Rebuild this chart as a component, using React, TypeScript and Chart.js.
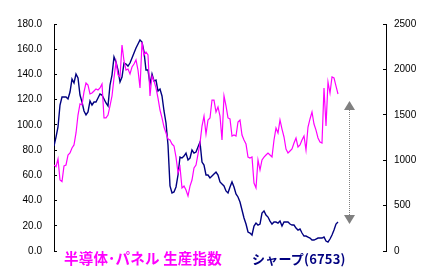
import React, { useEffect, useRef } from "react";
import { Chart, registerables } from "chart.js";

Chart.register(...registerables);

// 半導体・パネル 生産指数 (left axis), sampled left to right
const productionIndex: number[] = [
  68.2, 66.8, 73.0, 56.3, 55.0, 67.4, 68.2, 76.1, 77.7, 81.7,
  84.1, 93.6, 107.8, 116.6, 115.8, 126.1, 133.2, 131.6, 124.5, 125.3,
  126.9, 128.5, 127.7, 129.3, 132.4, 105.5, 105.5, 107.8, 115.0, 122.9,
  137.2, 149.9, 139.6, 138.0, 163.3, 150.7, 143.5, 144.3, 140.4, 145.9,
  148.3, 151.5, 143.5, 129.3, 165.7, 155.4, 157.8, 155.4, 122.9, 138.8,
  134.8, 129.3, 121.3, 111.8, 105.5, 98.3, 93.6, 88.8, 88.0, 84.8,
  83.3, 74.5, 61.9, 66.6, 50.0, 51.5, 48.4, 43.6, 51.5, 56.3,
  65.8, 68.2, 76.9, 85.6, 99.1, 107.0, 92.8, 103.9, 105.5, 119.7,
  119.7, 110.2, 114.2, 107.0, 88.0, 122.9, 115.0, 105.5, 104.7, 91.2,
  92.0, 91.2, 102.3, 103.9, 92.0, 88.0, 84.8, 74.5, 73.7, 74.5,
  53.9, 50.0, 72.2, 64.2, 72.2, 74.5, 76.1, 77.7, 76.1, 74.5,
  88.0, 97.5, 93.6, 103.9, 96.7, 90.4, 80.9, 77.7, 79.3, 80.9,
  85.6, 89.6, 82.5, 84.1, 88.0, 91.2, 80.1, 98.3, 104.7, 110.2,
  100.7, 95.9, 89.6, 86.4, 85.6, 129.3, 99.1, 134.0, 125.3, 138.0,
  137.2, 130.8, 124.5,
];

// シャープ(6753) share price (right axis), same sampling
const sharpPrice: number[] = [
  1156, 1255, 1366, 1608, 1696, 1696, 1696, 1674, 1751, 1894,
  1850, 1949, 1905, 1718, 1641, 1542, 1498, 1531, 1652, 1608,
  1641, 1641, 1685, 1729, 1718, 1674, 1630, 1597, 1828, 1938,
  2137, 2081, 1993, 1861, 1916, 2070, 2059, 2037, 2070, 2126,
  2181, 2236, 2280, 2324, 2302, 2192, 1993, 1993, 1839, 1949,
  1872, 1883, 1762, 1784, 1707, 1542, 1410, 1167, 716, 639,
  650, 705, 837, 1035, 1024, 1046, 1079, 1002, 1024, 1112,
  1079, 1090, 1145, 1200, 980, 947, 837, 837, 804, 826,
  848, 870, 837, 760, 738, 716, 661, 639, 705, 760,
  705, 628, 595, 540, 452, 363, 297, 209, 198, 176,
  275, 308, 286, 297, 418, 441, 396, 374, 330, 297,
  319, 319, 308, 330, 275, 319, 319, 319, 297, 286,
  286, 253, 231, 242, 198, 165, 165, 154, 143, 121,
  121, 132, 143, 143, 143, 154, 110, 99, 132, 176,
  231, 297, 319,
];

// x axis runs past the last sample (empty room on the right)
const X_SLOTS = 166;

const LEFT_MIN = 0;
const LEFT_MAX = 180;
const LEFT_STEP = 20;
const RIGHT_MIN = 0;
const RIGHT_MAX = 2500;
const RIGHT_STEP = 500;

const labelProduction = "半導体･パネル 生産指数";
const labelSharp = "シャープ(6753)";

// double arrow annotation (x slot, right-axis values)
const arrowSlot = 147.5;
const arrowTopValue = 1652;
const arrowBottomValue = 297;

const MAGENTA = "#FF00FF";
const NAVY = "#000080";
const GREY = "#808080";

const arrowPlugin = {
  id: "doubleArrow",
  afterDatasetsDraw(chart: any) {
    const { ctx, scales } = chart;
    const x = Math.round(scales.x.getPixelForValue(arrowSlot)) + 0.5;
    const yTop = scales.y1.getPixelForValue(arrowTopValue);
    const yBot = scales.y1.getPixelForValue(arrowBottomValue);
    const th = 9;
    const hw = 5.5;
    ctx.save();
    ctx.fillStyle = GREY;
    ctx.strokeStyle = GREY;
    ctx.lineWidth = 1;
    ctx.setLineDash([1, 1]);
    ctx.beginPath();
    ctx.moveTo(x, yTop + th);
    ctx.lineTo(x, yBot - th);
    ctx.stroke();
    ctx.setLineDash([]);
    ctx.beginPath();
    ctx.moveTo(x, yTop);
    ctx.lineTo(x - hw, yTop + th);
    ctx.lineTo(x + hw, yTop + th);
    ctx.closePath();
    ctx.fill();
    ctx.beginPath();
    ctx.moveTo(x, yBot);
    ctx.lineTo(x - hw, yBot - th);
    ctx.lineTo(x + hw, yBot - th);
    ctx.closePath();
    ctx.fill();
    ctx.restore();
  },
};

export default function App() {
  const canvasRef = useRef<HTMLCanvasElement | null>(null);

  useEffect(() => {
    const canvas = canvasRef.current;
    if (!canvas) return;
    const tickFont = { family: "'Liberation Sans', Arial, sans-serif", size: 10 };
    const chart = new Chart(canvas, {
      type: "line",
      data: {
        datasets: [
          {
            label: labelProduction,
            data: productionIndex.map((v, i) => ({ x: i, y: v })),
            yAxisID: "y",
            borderColor: MAGENTA,
            borderWidth: 1.2,
            pointRadius: 0,
            tension: 0,
            fill: false,
          },
          {
            label: labelSharp,
            data: sharpPrice.map((v, i) => ({ x: i, y: v })),
            yAxisID: "y1",
            borderColor: NAVY,
            borderWidth: 1.4,
            pointRadius: 0,
            tension: 0,
            fill: false,
          },
        ],
      },
      options: {
        animation: false,
        responsive: false,
        devicePixelRatio: 1,
        layout: { padding: { top: 24, bottom: 24, left: 0, right: 0 } },
        plugins: { legend: { display: false }, tooltip: { enabled: false } },
        scales: {
          x: { type: "linear", min: 0, max: X_SLOTS, display: false },
          y: {
            position: "left",
            min: LEFT_MIN,
            max: LEFT_MAX,
            ticks: {
              stepSize: LEFT_STEP,
              color: "#000",
              font: tickFont,
              padding: 15,
              callback: (v: any) => Number(v).toFixed(1),
            },
            grid: { drawOnChartArea: false, drawTicks: true, tickLength: -3, color: "#000" },
            border: { display: true, color: "#000", width: 1 },
            afterFit: (s: any) => {
              s.width = 54;
            },
          },
          y1: {
            position: "right",
            min: RIGHT_MIN,
            max: RIGHT_MAX,
            ticks: {
              stepSize: RIGHT_STEP,
              color: "#000",
              font: tickFont,
              padding: 11,
              callback: (v: any) => String(Math.round(Number(v))),
            },
            grid: { drawOnChartArea: false, drawTicks: true, tickLength: -3, color: "#000" },
            border: { display: true, color: "#000", width: 1 },
            afterFit: (s: any) => {
              s.width = 49;
            },
          },
        },
      },
      plugins: [arrowPlugin],
    } as any);
    return () => chart.destroy();
  }, []);

  const labelBase: React.CSSProperties = {
    position: "absolute",
    fontFamily: "'Noto Sans CJK JP', sans-serif",
    fontWeight: 700,
    lineHeight: 1,
    whiteSpace: "nowrap",
  };

  return (
    <div style={{ position: "absolute", left: 0, top: 0, width: 435, height: 275, background: "#fff" }}>
      <canvas ref={canvasRef} width={435} height={275} style={{ display: "block" }} />
      <div style={{ ...labelBase, left: 64, top: 251, fontSize: 14.5, letterSpacing: 0.2, color: MAGENTA }}>
        {labelProduction}
      </div>
      <div style={{ ...labelBase, left: 252, top: 252, fontSize: 13, letterSpacing: 0.2, color: NAVY }}>
        {labelSharp}
      </div>
    </div>
  );
}
